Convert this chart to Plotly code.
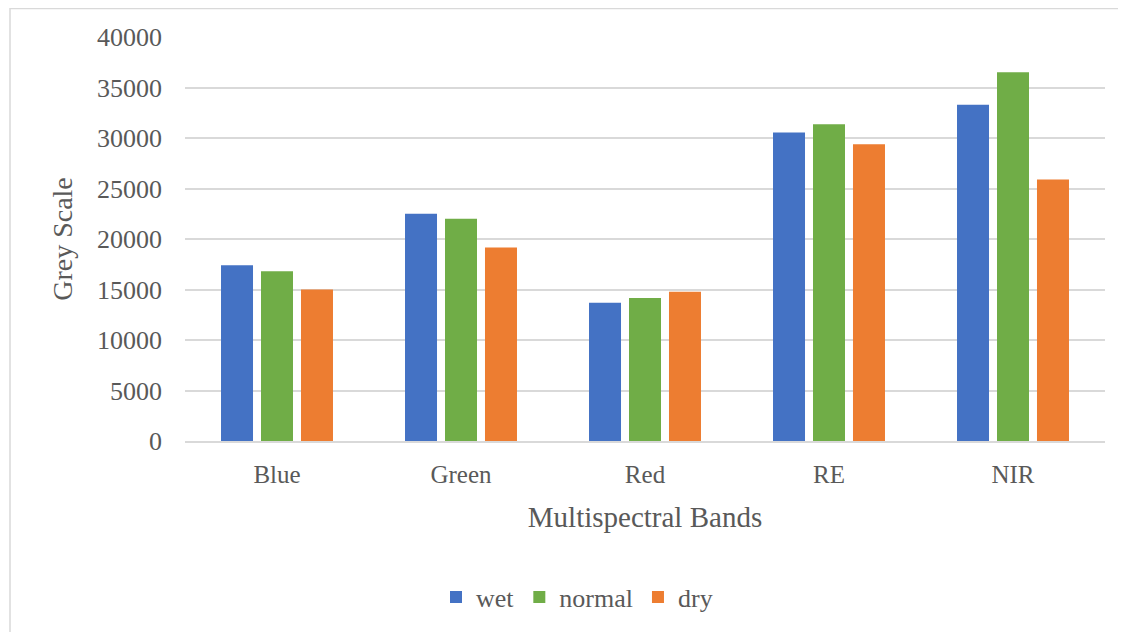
import plotly.graph_objects as go

categories = ["Blue", "Green", "Red", "RE", "NIR"]
wet = [17400, 22500, 13700, 30550, 33300]
normal = [16800, 22000, 14150, 31350, 36500]
dry = [15000, 19150, 14770, 29380, 25900]

series = [("wet", wet, "#4472C4"), ("normal", normal, "#70AD47"), ("dry", dry, "#ED7D31")]

fig = go.Figure()
for name, vals, col in series:
    fig.add_trace(go.Bar(x=categories, y=vals, name=name, marker=dict(color=col, line=dict(width=0))))

OFF = 8  # page body margin
W, H = 1126 - OFF, 632 - OFF
L = 185 - OFF
T = 37 - OFF
R = W - (1105 - OFF)
B = H - (441 - OFF)
pw, ph = W - L - R, H - T - B

def px(x):  # page pixel -> paper x
    return (x - OFF - L) / pw

def py(y):  # page pixel -> paper y
    return (H - B - (y - OFF)) / ph

font_family = "Liberation Serif, DejaVu Serif, serif"
grey = "#595959"

fig.update_layout(
    width=W, height=H,
    margin=dict(l=L, r=R, t=T, b=B),
    paper_bgcolor="white", plot_bgcolor="white",
    barmode="group", bargap=0.348, bargroupgap=0.2,
    font=dict(family=font_family, color=grey, size=21),
    showlegend=True,
    legend=dict(orientation="h", x=px(577), xanchor="center", y=py(597), yanchor="middle",
                font=dict(family=font_family, size=26, color=grey), itemwidth=30, traceorder="normal"),
    xaxis=dict(showgrid=False, showline=True, linecolor="#d9d9d9", linewidth=1.5,
               ticks="", tickfont=dict(family=font_family, size=25, color=grey), ticklabelstandoff=10,
               title=dict(text="Multispectral Bands", font=dict(family=font_family, size=29, color=grey), standoff=20)),
    yaxis=dict(range=[0, 40000], dtick=5000, showgrid=True, gridcolor="#d9d9d9", gridwidth=1.5,
               zeroline=False, showline=False, ticks="", ticklabelstandoff=22,
               tickfont=dict(family=font_family, size=26, color=grey), tickformat="d",
               title=dict(text="Grey Scale", font=dict(family=font_family, size=28, color=grey), standoff=16)),
    shapes=[
        dict(type="line", xref="paper", yref="paper", x0=px(10), x1=px(1140), y0=py(8.5), y1=py(8.5),
             line=dict(color="#d9d9d9", width=1.5)),
        dict(type="line", xref="paper", yref="paper", x0=px(10), x1=px(10), y0=py(8), y1=py(650),
             line=dict(color="#d9d9d9", width=1.5)),
    ],
)

fig.write_html("out.html")
